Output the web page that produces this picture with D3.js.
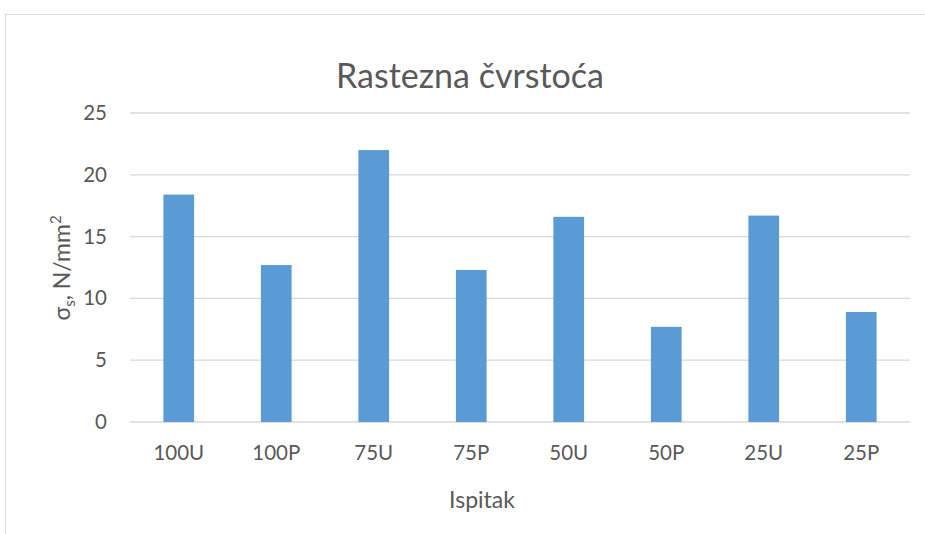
<!DOCTYPE html>
<html><head><meta charset="utf-8">
<script src="https://cdn.jsdelivr.net/npm/d3@7"></script>
<style>body{margin:0;background:#fff}svg{display:block}</style>
</head><body>
<script>
const categories = ["100U","100P","75U","75P","50U","50P","25U","25P"];
const values = [18.4,12.7,22.0,12.3,16.6,7.7,16.7,8.9];
const yTicks = [0,5,10,15,20,25];
const title = "Rastezna čvrstoća";
const xTitle = "Ispitak";

(function(){
const W=925,H=534;
const svg=d3.select("body").append("svg").attr("width",W).attr("height",H);
const font="Lato, 'Open Sans', sans-serif";
svg.append("rect").attr("x",5.5).attr("y",14.5).attr("width",W).attr("height",H).attr("fill","#fff").attr("stroke","#d9d9d9").attr("stroke-width",1);

const pL=130,pR=910,pT=113,pB=422;
const x=d3.scaleBand().domain(categories).range([pL,pR]).paddingInner(0.685).paddingOuter(0.3425);
const y=d3.scaleLinear().domain([0,25]).range([pB,pT]);

const g=svg.append("g");
g.selectAll(".grid").data(yTicks).join("line")
 .attr("x1",pL).attr("x2",pR).attr("y1",d=>y(d)).attr("y2",d=>y(d))
 .attr("stroke","#d9d9d9").attr("stroke-width",1.3);

g.selectAll(".bar").data(values).join("rect")
 .attr("x",(d,i)=>x(categories[i])).attr("width",x.bandwidth())
 .attr("y",d=>y(d)).attr("height",d=>y(0)-y(d)).attr("fill","#5b9bd5");

const yAxis=g.append("g").attr("transform",`translate(${pL},0)`)
 .call(d3.axisLeft(y).tickValues(yTicks).tickSize(0).tickPadding(23));
yAxis.select(".domain").remove();
yAxis.selectAll("text").attr("font-family",font).attr("font-size",20.5).attr("fill","#595959");

const xAxis=g.append("g").attr("transform",`translate(0,${pB})`)
 .call(d3.axisBottom(x).tickSize(0).tickPadding(23));
xAxis.select(".domain").remove();
xAxis.selectAll("text").attr("font-family",font).attr("font-size",20.5).attr("fill","#595959");

svg.append("text").attr("x",470).attr("y",88).attr("text-anchor","middle")
 .attr("font-family",font).attr("font-size",34).attr("fill","#595959").text(title);

svg.append("text").attr("x",482).attr("y",508).attr("text-anchor","middle")
 .attr("font-family",font).attr("font-size",23).attr("fill","#595959").text(xTitle);

const yt=svg.append("text").attr("transform","translate(70,268) rotate(-90)").attr("text-anchor","middle")
 .attr("font-family",font).attr("font-size",23).attr("fill","#595959");
yt.append("tspan").text("σ");
yt.append("tspan").attr("font-size",15).attr("dy",5).text("s");
yt.append("tspan").attr("dy",-5).text(", N/mm");
yt.append("tspan").attr("font-size",15).attr("dy",-9).text("2");
})();
</script>
</body></html>
